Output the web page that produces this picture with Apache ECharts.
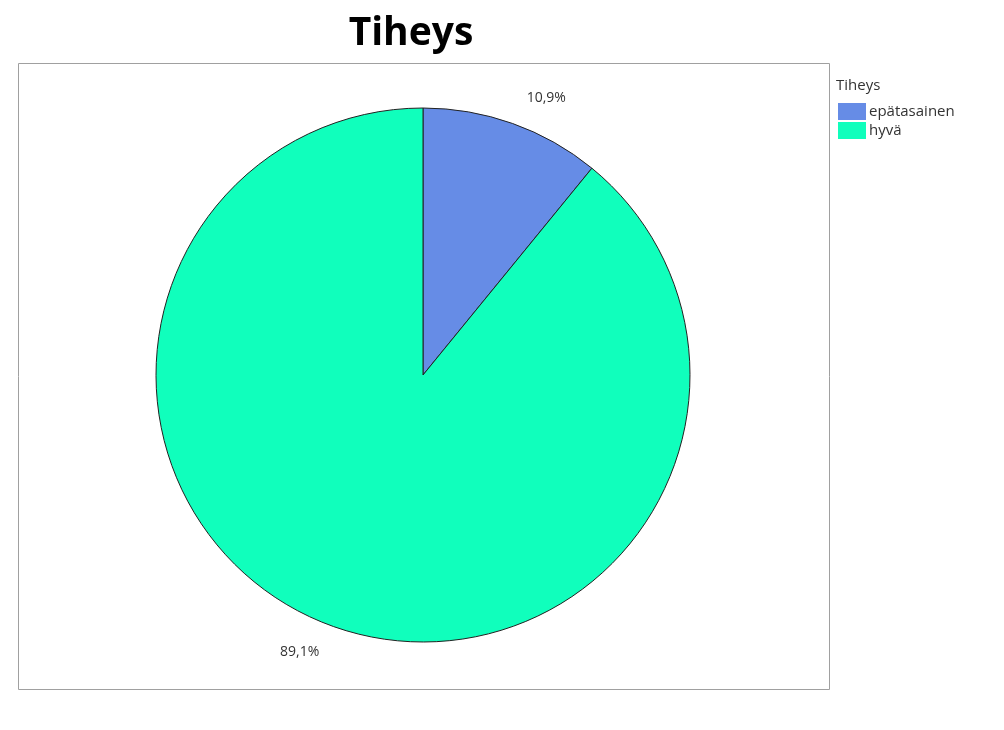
<!DOCTYPE html>
<html><head><meta charset="utf-8">
<script src="https://cdn.jsdelivr.net/npm/echarts@6/dist/echarts.min.js"></script>
<style>html,body{margin:0;padding:0;background:#fff}#c{width:1004px;height:730px}</style>
</head><body><div id="c"></div>
<script>
const categories = ['epätasainen', 'hyvä'];
const values = [10.9, 89.1];
const colors = ['#668CE6', '#10FFBC'];

const chart = echarts.init(document.getElementById('c'));
chart.setOption({
  animation: false,
  backgroundColor: '#ffffff',
  title: [
    { text: 'Tiheys', left: 411, top: 14, padding: 0, textAlign: 'center',
      textStyle: { fontFamily: 'Open Sans', fontWeight: 'bold', fontSize: 39, color: '#000' } },
    { text: 'Tiheys', left: 836, top: 78, padding: 0,
      textStyle: { fontFamily: 'Open Sans', fontWeight: 'normal', fontSize: 15, color: '#333' } }
  ],
  graphic: [{
    type: 'rect', silent: true, z: -1,
    shape: { x: 18.5, y: 63.5, width: 811, height: 626 },
    style: { fill: 'none', stroke: '#a0a0a0', lineWidth: 1 }
  }],
  legend: {
    orient: 'vertical', left: 838, top: 103, itemGap: 2, padding: 0,
    icon: 'rect', itemWidth: 28, itemHeight: 17,
    itemStyle: { borderWidth: 0 },
    textStyle: { fontFamily: 'Open Sans', fontSize: 15, lineHeight: 17, color: '#333', padding: [0, 0, 0, -2] },
    data: categories
  },
  series: [{
    type: 'pie',
    center: [423, 375],
    radius: 267,
    startAngle: 90,
    clockwise: true,
    avoidLabelOverlap: false,
    data: categories.map((c, i) => ({ name: c, value: values[i], itemStyle: { color: colors[i] } })),
    itemStyle: { borderColor: '#222', borderWidth: 1 },
    label: {
      show: true, position: 'outside',
      formatter: p => p.value.toFixed(1).replace('.', ',') + '%',
      fontFamily: 'Open Sans', fontSize: 14, color: '#333'
    },
    labelLine: { show: false, length: 27, length2: 0 },
    emphasis: { disabled: true }
  }]
});
</script></body></html>
